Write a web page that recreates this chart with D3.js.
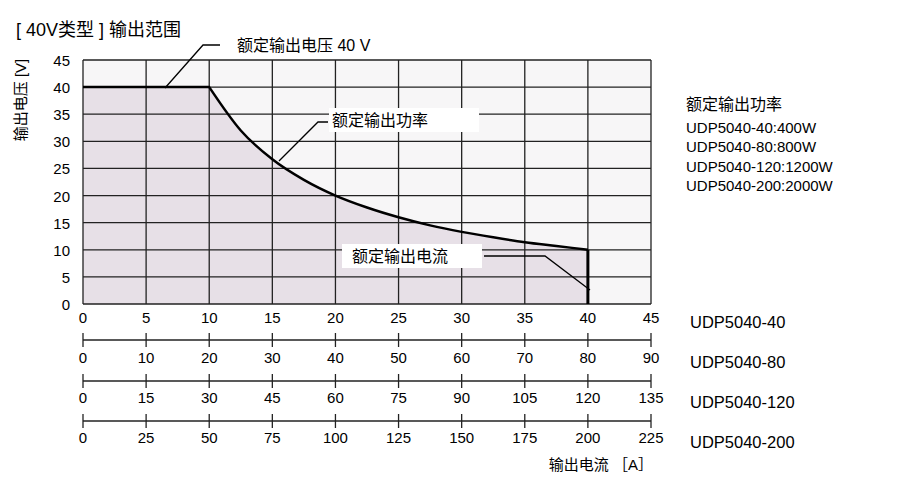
<!DOCTYPE html><html><head><meta charset="utf-8"><script src="https://cdn.jsdelivr.net/npm/d3@7"></script>
<style>body{margin:0;background:#fff}text{font-family:"Liberation Sans","Noto Sans CJK SC",sans-serif}</style></head><body><svg id="c" width="900" height="480"></svg>
<script>
const currents=[10,12.5,15,17.5,20,22.5,25,27.5,30,32.5,35,37.5,40];
const voltages=[40,32,26.7,22.9,20,17.8,16,14.5,13.3,12.3,11.4,10.7,10];
const yTicks=[0,5,10,15,20,25,30,35,40,45];
const models=["UDP5040-40","UDP5040-80","UDP5040-120","UDP5040-200"];
const scaleMax=[45,90,135,225];
const ratings=["UDP5040-40:400W","UDP5040-80:800W","UDP5040-120:1200W","UDP5040-200:2000W"];
const svg=d3.select("#c");
const x=d3.scaleLinear().domain([0,45]).range([83,651]);
const y=d3.scaleLinear().domain([0,45]).range([304,60]);
const curvePts=currents.map((c,i)=>[c,voltages[i]]);
const curveD=d3.line().x(d=>x(d[0])).y(d=>y(d[1])).curve(d3.curveMonotoneX)(curvePts);
const outline=`M${x(0)},${y(40)}L`+curveD.slice(1);
svg.append("rect").attr("x",83).attr("y",60).attr("width",568).attr("height",244).attr("fill","#f7f6f7");
svg.append("path").attr("fill","#e7e0e7").attr("d",outline+`L${x(40)},${y(0)}L${x(0)},${y(0)}Z`);
const g=svg.append("g");
d3.range(5,46,5).forEach(v=>g.append("line").attr("x1",x(v)).attr("x2",x(v)).attr("y1",60).attr("y2",304).attr("stroke","#222").attr("stroke-width",1.3));
yTicks.forEach(v=>{g.append("line").attr("x1",83).attr("x2",651).attr("y1",y(v)).attr("y2",y(v)).attr("stroke","#222").attr("stroke-width",1.3);
 svg.append("text").attr("x",70).attr("y",y(v)+6).attr("text-anchor","end").attr("font-size",15).text(v);});
g.append("line").attr("x1",83).attr("x2",83).attr("y1",60).attr("y2",304).attr("stroke","#222").attr("stroke-width",1.3);
svg.append("path").attr("fill","none").attr("stroke","#000").attr("stroke-width",2.5).attr("d",outline);
svg.append("line").attr("x1",x(40)).attr("x2",x(40)).attr("y1",y(10)).attr("y2",y(0)).attr("stroke","#000").attr("stroke-width",3);
const lineY=[null,340,381,421], labY=[318,358,398,438];
models.forEach((m,i)=>{
 const s=d3.scaleLinear().domain([0,scaleMax[i]]).range([83,651]);
 const ticks=d3.range(0,9.5).map(k=>k*scaleMax[i]/9);
 if(lineY[i]){svg.append("line").attr("x1",83).attr("x2",651).attr("y1",lineY[i]).attr("y2",lineY[i]).attr("stroke","#222").attr("stroke-width",1.3);
  ticks.forEach(t=>svg.append("line").attr("x1",s(t)).attr("x2",s(t)).attr("y1",lineY[i]-7).attr("y2",lineY[i]+7).attr("stroke","#222").attr("stroke-width",1.3));}
 ticks.forEach(t=>svg.append("text").attr("x",s(t)).attr("y",labY[i]+5).attr("text-anchor","middle").attr("font-size",15).text(t));
 svg.append("text").attr("x",690).attr("y",labY[i]+10).attr("font-size",16.5).text(m);
});
svg.append("text").attr("x",653).attr("y",470).attr("text-anchor","end").attr("font-size",15).text("输出电流 ［A］");
svg.append("text").attr("x",16).attr("y",36).attr("font-size",18).text("[ 40V类型 ] 输出范围");
svg.append("text").attr("transform","translate(26,100) rotate(-90)").attr("text-anchor","middle").attr("font-size",15).text("输出电压 [V]");
svg.append("text").attr("x",686).attr("y",110).attr("font-size",16).text("额定输出功率");
ratings.forEach((r,i)=>svg.append("text").attr("x",686).attr("y",133+i*19.3).attr("font-size",15).text(r));
const ann=svg.append("g").attr("fill","none").attr("stroke","#000").attr("stroke-width",1.3);
ann.append("polyline").attr("points","165,88 203,45 220,45");
svg.append("text").attr("x",237).attr("y",51).attr("font-size",16).text("额定输出电压  40 V");
ann.append("polyline").attr("points","279,161 318,122 328,122");
svg.append("rect").attr("x",329).attr("y",108).attr("width",150).attr("height",24).attr("fill","#fff");
svg.append("text").attr("x",332).attr("y",126).attr("font-size",16).text("额定输出功率");
svg.append("rect").attr("x",342).attr("y",244).attr("width",140).attr("height",24).attr("fill","#fff");
svg.append("text").attr("x",352).attr("y",262).attr("font-size",16).text("额定输出电流");
ann.append("polyline").attr("points","484,256 545,256 590,290");
</script></body></html>
